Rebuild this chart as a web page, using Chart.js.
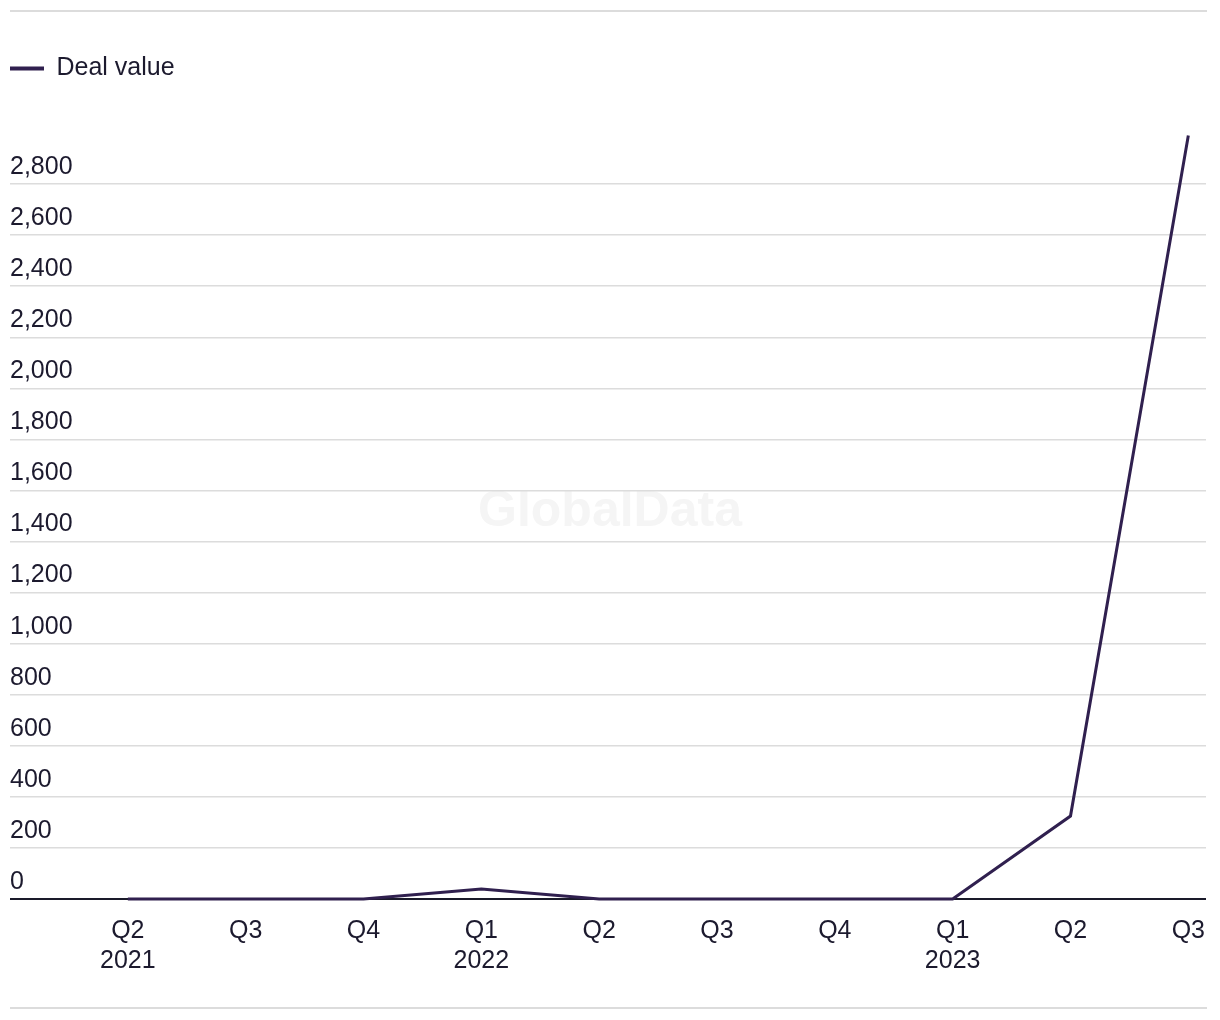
<!DOCTYPE html>
<html>
<head>
<meta charset="utf-8">
<script src="https://cdn.jsdelivr.net/npm/chart.js@4/dist/chart.umd.min.js"></script>
<style>
html,body{margin:0;padding:0;background:#fff;}
#wrap{width:1220px;height:1020px;position:relative;}
</style>
</head>
<body>
<div id="wrap"><canvas id="c" width="1220" height="1020"></canvas></div>
<script>
const quarters = ['Q2','Q3','Q4','Q1','Q2','Q3','Q4','Q1','Q2','Q3'];
const years    = ['2021','','','2022','','','','2023','',''];
const dealValue = [0, 0, 0, 39, 0, 0, 0, 0, 325, 2990];
const yTicks = [0,200,400,600,800,1000,1200,1400,1600,1800,2000,2200,2400,2600,2800];

const FONT = 'Liberation Sans, Arial, sans-serif';
const TEXT = '#1c1a2e';
const LINE = '#30204f';

const points = dealValue.map((v,i)=>({x:i,y:v}));

const deco = {
  id:'deco',
  beforeInit(chart){
    const lg = chart.legend;
    const orig = lg.fit;
    lg.fit = function(){ orig.call(this); this.height = 77; };
  },
  beforeDraw(chart){
    const ctx = chart.ctx;
    ctx.save();
    ctx.fillStyle = '#f5f5f5';
    ctx.font = 'bold 50px ' + FONT;
    ctx.textAlign = 'center';
    ctx.textBaseline = 'middle';
    ctx.fillText('GlobalData', 610, 512);
    ctx.strokeStyle = '#dcdcdc';
    ctx.lineWidth = 2;
    ctx.beginPath();
    ctx.moveTo(10, 11); ctx.lineTo(1207, 11);
    ctx.moveTo(10, 1008); ctx.lineTo(1207, 1008);
    ctx.stroke();
    ctx.restore();
  }
};

new Chart(document.getElementById('c'), {
  type:'line',
  data:{
    datasets:[{
      label:'Deal value',
      data:points,
      borderColor:LINE,
      backgroundColor:LINE,
      borderWidth:3,
      pointRadius:0,
      tension:0,
      clip:false
    }]
  },
  options:{
    responsive:false,
    animation:false,
    layout:{padding:{top:56,left:10,right:14,bottom:27}},
    plugins:{
      legend:{
        position:'top',
        align:'start',
        labels:{
          boxWidth:34, boxHeight:4, padding:0,
          color:TEXT,
          font:{family:FONT,size:25},
          generateLabels(chart){
            return chart.data.datasets.map((d,i)=>({
              text:d.label, fillStyle:LINE, strokeStyle:LINE, lineWidth:0,
              fontColor:TEXT, hidden:false, datasetIndex:i
            }));
          }
        }
      },
      tooltip:{enabled:false}
    },
    scales:{
      x:{
        type:'linear',
        min:-1.0,
        max:9.15,
        afterBuildTicks(scale){ scale.ticks = quarters.map((q,i)=>({value:i})); },
        afterFit(scale){ scale.paddingRight = 0; scale.paddingLeft = 0; },
        ticks:{
          color:TEXT,
          font:{family:FONT,size:25,lineHeight:1.2},
          padding:17,
          maxRotation:0,
          autoSkip:false,
          callback(v){ const i = Math.round(v); return years[i] ? [quarters[i], years[i]] : quarters[i]; }
        },
        grid:{display:false, drawTicks:false},
        border:{display:false}
      },
      y:{
        min:0,
        max:3000,
        afterBuildTicks(scale){ scale.ticks = yTicks.map(v=>({value:v})); },
        ticks:{
          mirror:true,
          padding:0,
          labelOffset:-17,
          color:TEXT,
          font:{family:FONT,size:25},
          callback(v){ return v.toLocaleString('en-US'); }
        },
        grid:{
          drawTicks:false,
          color(c){ return c.tick && c.tick.value===0 ? '#1a1a2a' : '#dcdcdc'; },
          lineWidth(c){ return c.tick && c.tick.value===0 ? 2 : 1.5; }
        },
        border:{display:false}
      }
    }
  },
  plugins:[deco]
});
</script>
</body>
</html>
